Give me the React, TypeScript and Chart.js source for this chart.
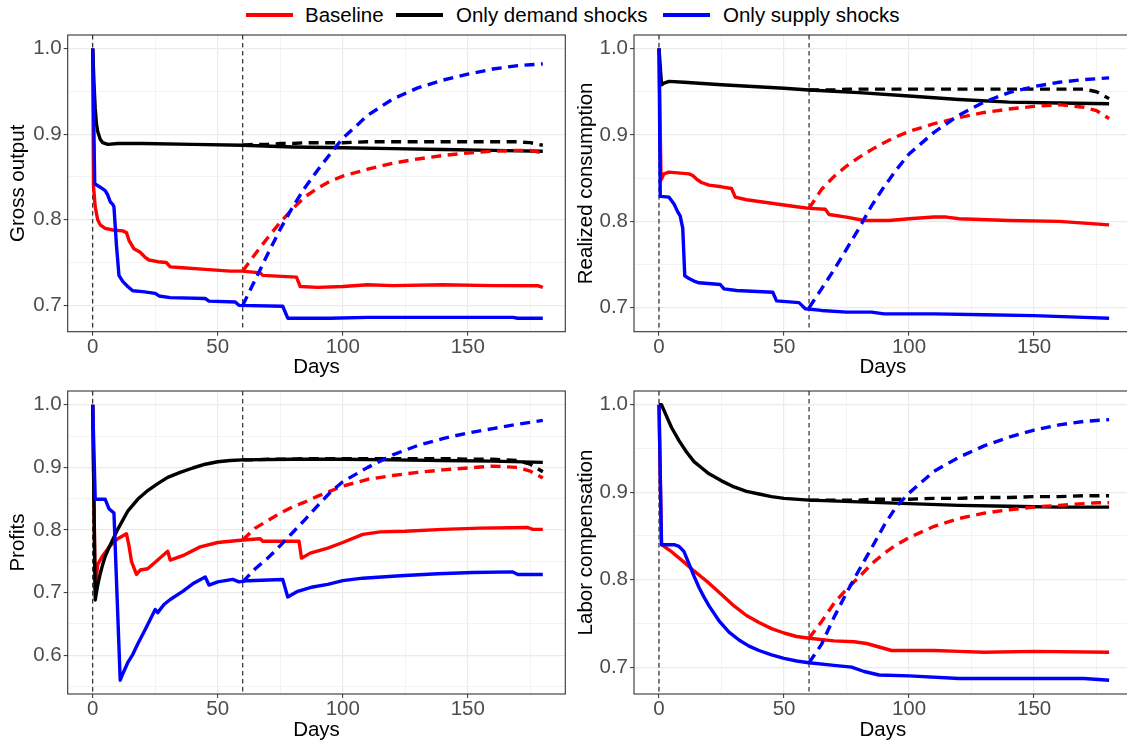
import React, { useEffect, useRef } from "react";
import { Chart, registerables } from "chart.js";

Chart.register(...registerables);
Chart.defaults.font.family = "'Liberation Sans', Arial, sans-serif";

// ---------- shared ----------
const xTicks = [0, 25, 50, 75, 100, 125, 150, 175];
const shockDays = [0, 60];
const recDays = [60, 65, 70, 75, 80, 85, 90, 95, 100, 110, 120, 130, 140, 150, 160, 170, 175, 180];
const legendLabels = ["Baseline", "Only demand shocks", "Only supply shocks"];
const RED = "#FF0000";
const BLACK = "#000000";
const BLUE = "#0000FF";

// ---------- Gross output ----------
const goRedDays = [0, 0.3, 1, 2, 3, 5, 8, 12, 13.5, 14.5, 16.5, 19, 21, 22.5, 26, 29.5, 31, 36, 45, 55, 60, 67, 68, 81.5, 83, 90, 100, 110, 120, 140, 160, 178, 180];
const goRed = [1.0, 0.840, 0.815, 0.800, 0.794, 0.790, 0.788, 0.787, 0.785, 0.776, 0.766, 0.762, 0.756, 0.753, 0.751, 0.750, 0.745, 0.744, 0.742, 0.740, 0.740, 0.738, 0.735, 0.733, 0.722, 0.721, 0.722, 0.724, 0.723, 0.724, 0.723, 0.723, 0.721];
const goBlackDays = [0, 0.5, 1, 1.5, 2, 3, 4, 6, 10, 20, 40, 60, 80, 100, 120, 140, 160, 180];
const goBlack = [1.0, 0.960, 0.930, 0.912, 0.903, 0.894, 0.890, 0.888, 0.889, 0.889, 0.888, 0.887, 0.885, 0.884, 0.883, 0.882, 0.881, 0.880];
const goBlueDays = [0, 0.8, 3, 5, 6, 7, 8, 8.5, 9.5, 10.5, 12, 14, 16, 20, 25, 26.5, 31, 45, 46.5, 57, 58.5, 76, 78, 95, 110, 168, 170, 180];
const goBlue = [1.0, 0.842, 0.838, 0.834, 0.829, 0.821, 0.818, 0.815, 0.770, 0.735, 0.728, 0.722, 0.717, 0.716, 0.714, 0.711, 0.709, 0.708, 0.705, 0.704, 0.700, 0.699, 0.685, 0.685, 0.686, 0.686, 0.685, 0.685];
const goRedRec = [0.740, 0.760, 0.779, 0.797, 0.813, 0.827, 0.837, 0.845, 0.851, 0.859, 0.866, 0.871, 0.875, 0.878, 0.880, 0.881, 0.881, 0.878];
const goBlackRec = [0.887, 0.888, 0.888, 0.889, 0.889, 0.890, 0.890, 0.890, 0.890, 0.891, 0.891, 0.891, 0.891, 0.891, 0.891, 0.891, 0.890, 0.887];
const goBlueRec = [0.700, 0.730, 0.760, 0.789, 0.815, 0.838, 0.858, 0.877, 0.895, 0.922, 0.941, 0.954, 0.963, 0.970, 0.976, 0.980, 0.981, 0.982];

// ---------- Realized consumption ----------
const rcRedDays = [0, 0.8, 2, 4, 12, 13.5, 15, 17, 20, 25, 29, 30.5, 35, 45, 55, 60, 66.5, 68, 75, 82, 92, 100, 110, 115, 120, 140, 160, 180];
const rcRed = [1.0, 0.848, 0.855, 0.857, 0.855, 0.853, 0.849, 0.845, 0.842, 0.840, 0.838, 0.828, 0.825, 0.821, 0.817, 0.815, 0.814, 0.808, 0.805, 0.801, 0.801, 0.803, 0.805, 0.805, 0.803, 0.801, 0.800, 0.796];
const rcBlackDays = [0, 1, 2, 4, 10, 25, 50, 60, 80, 100, 120, 140, 160, 180];
const rcBlack = [1.0, 0.958, 0.960, 0.962, 0.961, 0.958, 0.954, 0.952, 0.949, 0.945, 0.941, 0.938, 0.937, 0.936];
const rcBlueDays = [0, 0.5, 4, 6, 7.5, 8.5, 9.5, 10.3, 12, 14, 16, 24.5, 26, 31, 45.5, 47, 56, 58.5, 65, 75, 85, 90, 110, 130, 150, 170, 180];
const rcBlue = [1.0, 0.829, 0.828, 0.820, 0.811, 0.806, 0.792, 0.737, 0.734, 0.731, 0.729, 0.727, 0.722, 0.720, 0.718, 0.708, 0.706, 0.699, 0.697, 0.695, 0.695, 0.693, 0.693, 0.692, 0.691, 0.689, 0.688];
const rcRedRec = [0.815, 0.837, 0.852, 0.864, 0.874, 0.883, 0.891, 0.898, 0.904, 0.913, 0.920, 0.926, 0.930, 0.933, 0.935, 0.932, 0.928, 0.919];
const rcBlackRec = [0.952, 0.952, 0.952, 0.953, 0.953, 0.953, 0.953, 0.953, 0.953, 0.953, 0.953, 0.953, 0.953, 0.953, 0.953, 0.953, 0.950, 0.942];
const rcBlueRec = [0.700, 0.722, 0.744, 0.768, 0.792, 0.818, 0.840, 0.860, 0.878, 0.903, 0.923, 0.938, 0.949, 0.956, 0.961, 0.964, 0.965, 0.966];

// ---------- Profits ----------
const prRedDays = [0, 1, 2, 4, 7, 10, 13.5, 14.5, 15.5, 17.5, 19, 22, 26, 30, 31, 36, 43, 50, 60, 67, 68, 82.5, 83.5, 87, 94, 100, 108, 115, 125, 140, 155, 174, 176, 180];
const prRed = [1.0, 0.705, 0.745, 0.759, 0.775, 0.786, 0.794, 0.775, 0.750, 0.729, 0.736, 0.738, 0.752, 0.766, 0.752, 0.759, 0.773, 0.780, 0.784, 0.786, 0.782, 0.782, 0.755, 0.763, 0.771, 0.780, 0.793, 0.797, 0.798, 0.801, 0.803, 0.804, 0.801, 0.801];
const prBlackDays = [0, 1, 2, 3, 4, 5, 7, 10, 14, 18, 22, 26, 30, 35, 40, 45, 50, 55, 60, 80, 100, 120, 140, 160, 180];
const prBlack = [1.0, 0.688, 0.712, 0.730, 0.745, 0.758, 0.776, 0.801, 0.830, 0.849, 0.863, 0.874, 0.884, 0.892, 0.899, 0.905, 0.909, 0.911, 0.912, 0.913, 0.913, 0.912, 0.911, 0.910, 0.908];
const prBlueDays = [0, 1, 5, 6.5, 8.5, 11, 12, 14, 16, 18, 21, 25, 26, 28.5, 31, 36, 40, 45, 46.5, 50, 56, 58.5, 62, 76, 78, 82, 88, 94, 100, 108, 123, 138, 152, 168, 170, 180];
const prBlue = [1.0, 0.849, 0.849, 0.834, 0.827, 0.560, 0.570, 0.588, 0.601, 0.618, 0.641, 0.673, 0.668, 0.681, 0.689, 0.702, 0.714, 0.725, 0.712, 0.717, 0.721, 0.717, 0.719, 0.721, 0.693, 0.702, 0.709, 0.713, 0.719, 0.723, 0.727, 0.730, 0.732, 0.733, 0.729, 0.729];
const prRedRec = [0.784, 0.803, 0.815, 0.827, 0.837, 0.845, 0.854, 0.862, 0.870, 0.881, 0.887, 0.892, 0.896, 0.899, 0.902, 0.900, 0.894, 0.883];
const prBlackRec = [0.912, 0.912, 0.913, 0.913, 0.913, 0.914, 0.914, 0.914, 0.914, 0.914, 0.914, 0.914, 0.914, 0.913, 0.913, 0.911, 0.905, 0.893];
const prBlueRec = [0.717, 0.738, 0.755, 0.775, 0.796, 0.817, 0.839, 0.860, 0.877, 0.900, 0.920, 0.935, 0.946, 0.955, 0.962, 0.969, 0.972, 0.975];

// ---------- Labor compensation ----------
const lcRedDays = [0, 1, 5, 10, 14, 17, 20, 25, 30, 35, 40, 45, 50, 55, 60, 70, 78, 83, 88, 93, 100, 110, 120, 130, 150, 180];
const lcRed = [1.0, 0.840, 0.832, 0.820, 0.810, 0.803, 0.796, 0.783, 0.770, 0.759, 0.751, 0.744, 0.739, 0.735, 0.733, 0.730, 0.729, 0.727, 0.723, 0.719, 0.719, 0.719, 0.718, 0.717, 0.718, 0.717];
const lcBlackDays = [0, 1, 3, 5, 8, 11, 14, 17, 20, 25, 30, 35, 40, 45, 50, 60, 80, 100, 120, 140, 160, 180];
const lcBlack = [1.0, 1.0, 0.987, 0.974, 0.959, 0.946, 0.935, 0.928, 0.921, 0.913, 0.906, 0.901, 0.898, 0.895, 0.893, 0.891, 0.889, 0.887, 0.885, 0.884, 0.883, 0.883];
const lcBlueDays = [0, 1, 6, 8, 10, 12, 14, 16, 18, 20, 24, 28, 32, 36, 40, 45, 50, 55, 60, 70, 77, 82, 88, 100, 120, 150, 170, 180];
const lcBlue = [1.0, 0.840, 0.840, 0.838, 0.832, 0.818, 0.804, 0.791, 0.780, 0.770, 0.753, 0.740, 0.731, 0.724, 0.719, 0.714, 0.710, 0.707, 0.705, 0.702, 0.700, 0.695, 0.691, 0.690, 0.687, 0.687, 0.687, 0.685];
const lcRedRec = [0.733, 0.752, 0.773, 0.789, 0.803, 0.818, 0.830, 0.840, 0.848, 0.861, 0.870, 0.876, 0.880, 0.883, 0.885, 0.887, 0.888, 0.888];
const lcBlackRec = [0.891, 0.891, 0.891, 0.891, 0.891, 0.892, 0.892, 0.892, 0.892, 0.893, 0.893, 0.894, 0.894, 0.895, 0.895, 0.896, 0.896, 0.896];
const lcBlueRec = [0.705, 0.726, 0.757, 0.785, 0.811, 0.836, 0.862, 0.884, 0.899, 0.924, 0.940, 0.953, 0.963, 0.971, 0.977, 0.981, 0.982, 0.983];

type Line = { days: number[]; vals: number[]; color: string; dashed: boolean };
type PanelCfg = {
  title: string;
  lines: Line[];
  yTicks: number[];
  canvas: { left: number; top: number; w: number; h: number };
  area: { left: number; top: number; right: number; bottom: number };
  yTitleX: number;
  xTitleY: number;
};

const mk = (red: number[], redD: number[], black: number[], blackD: number[], blue: number[], blueD: number[], redR: number[], blackR: number[], blueR: number[]): Line[] => [
  { days: recDays, vals: blueR, color: BLUE, dashed: true },
  { days: recDays, vals: blackR, color: BLACK, dashed: true },
  { days: recDays, vals: redR, color: RED, dashed: true },
  { days: blueD, vals: blue, color: BLUE, dashed: false },
  { days: blackD, vals: black, color: BLACK, dashed: false },
  { days: redD, vals: red, color: RED, dashed: false },
];

const FS = 20.5;

const panels: PanelCfg[] = [
  {
    title: "Gross output",
    lines: mk(goRed, goRedDays, goBlack, goBlackDays, goBlue, goBlueDays, goRedRec, goBlackRec, goBlueRec),
    yTicks: [0.7, 0.75, 0.8, 0.85, 0.9, 0.95, 1.0],
    canvas: { left: 0, top: 0, w: 570, h: 380 },
    area: { left: 67.7, top: 35, right: 565.3, bottom: 331.7 },
    yTitleX: 18.3,
    xTitleY: 367.7,
  },
  {
    title: "Realized consumption",
    lines: mk(rcRed, rcRedDays, rcBlack, rcBlackDays, rcBlue, rcBlueDays, rcRedRec, rcBlackRec, rcBlueRec),
    yTicks: [0.7, 0.75, 0.8, 0.85, 0.9, 0.95, 1.0],
    canvas: { left: 570, top: 0, w: 570, h: 380 },
    area: { left: 634, top: 35, right: 1131.6, bottom: 331.7 },
    yTitleX: 586.7,
    xTitleY: 367.7,
  },
  {
    title: "Profits",
    lines: mk(prRed, prRedDays, prBlack, prBlackDays, prBlue, prBlueDays, prRedRec, prBlackRec, prBlueRec),
    yTicks: [0.55, 0.6, 0.65, 0.7, 0.75, 0.8, 0.85, 0.9, 0.95, 1.0],
    canvas: { left: 0, top: 355.7, w: 570, h: 391.3 },
    area: { left: 67.7, top: 390.7, right: 565.3, bottom: 694 },
    yTitleX: 18.3,
    xTitleY: 730,
  },
  {
    title: "Labor compensation",
    lines: mk(lcRed, lcRedDays, lcBlack, lcBlackDays, lcBlue, lcBlueDays, lcRedRec, lcBlackRec, lcBlueRec),
    yTicks: [0.7, 0.75, 0.8, 0.85, 0.9, 0.95, 1.0],
    canvas: { left: 570, top: 355.7, w: 570, h: 391.3 },
    area: { left: 634, top: 390.7, right: 1131.6, bottom: 694 },
    yTitleX: 586,
    xTitleY: 730,
  },
];

const isMajorY = (v: number) => Math.abs(v * 10 - Math.round(v * 10)) < 1e-6;
const isMajorX = (v: number) => Math.abs(v % 50) < 1e-6;

function Panel({ cfg }: { cfg: PanelCfg }) {
  const ref = useRef<HTMLCanvasElement | null>(null);
  useEffect(() => {
    const canvas = ref.current;
    if (!canvas) return;
    const { canvas: c, area } = cfg;
    const all = cfg.lines.flatMap((l) => l.vals);
    const lo = Math.min(...all);
    const hi = Math.max(...all);
    const ex = (hi - lo) * 0.05;
    const yW = area.left - c.left;
    const xH = c.top + c.h - area.bottom;
    const padTop = area.top - c.top;
    const padRight = c.left + c.w - area.right;
    const yTitlePad = cfg.yTitleX - c.left - FS / 2;
    const xTitlePad = c.top + c.h - cfg.xTitleY - FS / 2;

    const deco = {
      id: "deco",
      beforeDatasetsDraw(chart: any) {
        const { ctx, chartArea: a, scales } = chart;
        ctx.save();
        ctx.strokeStyle = "#000";
        ctx.lineWidth = 1;
        ctx.setLineDash([4.5, 3.5]);
        for (const d of shockDays) {
          const px = scales.x.getPixelForValue(d);
          ctx.beginPath();
          ctx.moveTo(px, a.top);
          ctx.lineTo(px, a.bottom);
          ctx.stroke();
        }
        ctx.restore();
      },
      afterDatasetsDraw(chart: any) {
        const { ctx, chartArea: a } = chart;
        ctx.save();
        ctx.strokeStyle = "#333333";
        ctx.lineWidth = 1.1;
        ctx.strokeRect(a.left, a.top, a.right - a.left, a.bottom - a.top);
        ctx.restore();
      },
    };

    const chart = new Chart(canvas, {
      type: "line",
      data: {
        datasets: cfg.lines.map((l) => ({
          data: l.days.map((d, i) => ({ x: d, y: l.vals[i] })),
          borderColor: l.color,
          backgroundColor: l.color,
          borderWidth: 3.4,
          borderDash: l.dashed ? [10, 6.5] : [],
          pointRadius: 0,
          tension: 0,
          fill: false,
          borderJoinStyle: "round" as const,
        })),
      },
      options: {
        animation: false,
        responsive: false,
        maintainAspectRatio: false,
        layout: { padding: { left: 0, top: padTop, right: padRight, bottom: 0 } },
        plugins: { legend: { display: false }, tooltip: { enabled: false } },
        scales: {
          x: {
            type: "linear",
            min: -10,
            max: 189,
            afterBuildTicks: (s: any) => {
              s.ticks = xTicks.map((v) => ({ value: v }));
            },
            afterFit: (s: any) => {
              s.height = xH;
            },
            ticks: {
              autoSkip: false,
              maxRotation: 0,
              padding: 1,
              color: "#4D4D4D",
              font: { size: FS, lineHeight: 1 },
              callback: (v: any) => (isMajorX(Number(v)) ? String(v) : ""),
            },
            grid: {
              color: (ctx: any) => (ctx.tick && isMajorX(ctx.tick.value) ? "#EBEBEB" : "#F2F2F2"),
              lineWidth: (ctx: any) => (ctx.tick && isMajorX(ctx.tick.value) ? 1.2 : 0.9),
              tickLength: 4,
              tickWidth: 1,
              tickColor: (ctx: any) => (ctx.tick && isMajorX(ctx.tick.value) ? "#333333" : "rgba(0,0,0,0)"),
            },
            border: { display: false },
            title: {
              display: true,
              text: "Days",
              color: "#000",
              font: { size: FS, lineHeight: 1 },
              padding: { top: 0, bottom: xTitlePad },
            },
          },
          y: {
            type: "linear",
            min: lo - ex,
            max: hi + ex,
            afterBuildTicks: (s: any) => {
              s.ticks = cfg.yTicks.map((v) => ({ value: v }));
            },
            afterFit: (s: any) => {
              s.width = yW;
            },
            ticks: {
              autoSkip: false,
              padding: 2,
              color: "#4D4D4D",
              font: { size: FS, lineHeight: 1 },
              callback: (v: any) => (isMajorY(Number(v)) ? Number(v).toFixed(1) : ""),
            },
            grid: {
              color: (ctx: any) => (ctx.tick && isMajorY(ctx.tick.value) ? "#EBEBEB" : "#F2F2F2"),
              lineWidth: (ctx: any) => (ctx.tick && isMajorY(ctx.tick.value) ? 1.2 : 0.9),
              tickLength: 4,
              tickWidth: 1,
              tickColor: (ctx: any) => (ctx.tick && isMajorY(ctx.tick.value) ? "#333333" : "rgba(0,0,0,0)"),
            },
            border: { display: false },
            title: {
              display: true,
              text: cfg.title,
              color: "#000",
              font: { size: FS, lineHeight: 1 },
              padding: { top: yTitlePad, bottom: 0 },
            },
          },
        },
      },
      plugins: [deco],
    } as any);
    return () => chart.destroy();
  }, [cfg]);

  const { canvas: c } = cfg;
  return (
    <canvas
      ref={ref}
      width={c.w}
      height={Math.round(c.h)}
      style={{ position: "absolute", left: c.left, top: c.top, width: c.w, height: Math.round(c.h) }}
    />
  );
}

const legendKeys = [
  { color: RED, keyX: 246, textX: 305 },
  { color: BLACK, keyX: 396, textX: 456 },
  { color: BLUE, keyX: 663, textX: 723 },
];

export default function App() {
  return (
    <div
      style={{
        position: "fixed",
        left: 0,
        top: 0,
        width: 1127,
        height: 747,
        overflow: "hidden",
        background: "#fff",
        fontFamily: "'Liberation Sans', Arial, sans-serif",
      }}
    >
      {legendKeys.map((k, i) => (
        <React.Fragment key={i}>
          <div style={{ position: "absolute", left: k.keyX, top: 13.3, width: 47, height: 3.4, background: k.color }} />
          <div
            style={{
              position: "absolute",
              left: k.textX,
              top: 0,
              height: 30,
              lineHeight: "30px",
              fontSize: FS,
              color: "#000",
              whiteSpace: "nowrap",
            }}
          >
            {legendLabels[i]}
          </div>
        </React.Fragment>
      ))}
      {panels.map((p, i) => (
        <Panel key={i} cfg={p} />
      ))}
    </div>
  );
}
